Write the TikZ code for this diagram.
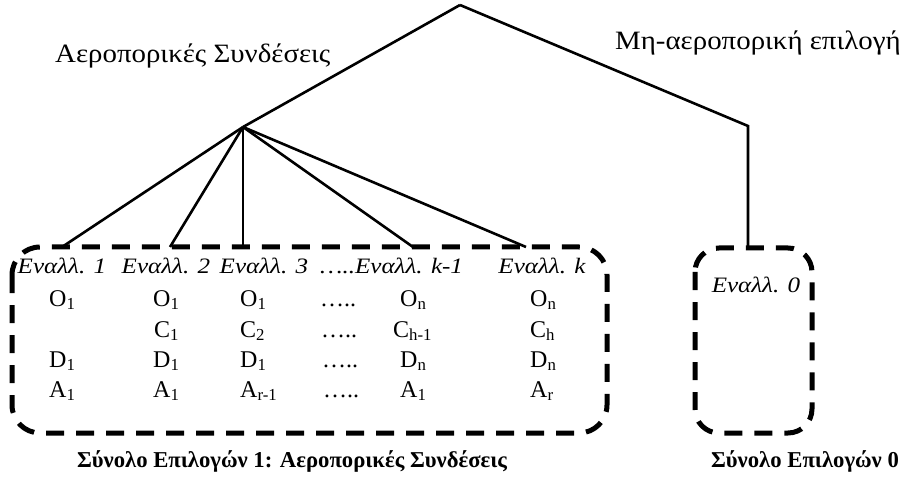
\documentclass[tikz,border=0pt]{standalone}
\usepackage{fontspec}
\setmainfont{Liberation Serif}
\newfontfamily\widelabel[FakeStretch=1.09]{Liberation Serif}
\newfontfamily\widehead[FakeStretch=1.14]{Liberation Serif}
\begin{document}
\begin{tikzpicture}[x=1pt,y=-1pt,
  tree/.style={line width=2.6pt},
  setbox/.style={line width=5pt,dash pattern=on 18pt off 12pt},
  head/.style={font=\widehead\fontsize{22}{24}\selectfont\itshape,anchor=base,inner sep=0pt},
  cell/.style={font=\fontsize{24}{26}\selectfont,anchor=base west,inner sep=0pt},
  branchlabel/.style={font=\widelabel\fontsize{26.5}{28}\selectfont,anchor=base west,inner sep=0pt},
  setlabel/.style={font=\fontsize{22.7}{24}\selectfont\bfseries,anchor=base,inner sep=0pt}]
\useasboundingbox (0,0) rectangle (923,494);

% choice sets
\draw[setbox,rounded corners=28pt] (12,247) rectangle (607,433);
\draw[setbox,rounded corners=24pt] (695,248) rectangle (812,433);

% tree
\coordinate (root) at (460,5);
\coordinate (air) at (243,127);
\coordinate (bend) at (748,126);
\coordinate (a1) at (62,247);
\coordinate (a2) at (170,247);
\coordinate (a3) at (243,247);
\coordinate (ak1) at (413,247);
\coordinate (ak) at (526,247);
\coordinate (a0) at (748,248);
\draw[tree] (root) -- (air);
\draw[tree] (root) -- (bend) -- (a0);
\foreach \t in {a1,a2,a3,ak1,ak} \draw[tree] (air) -- (\t);

% branch labels
\node[branchlabel] (lair) at (55,63) {Αεροπορικές Συνδέσεις};
\node[branchlabel] (lnon) at (615,50) {Μη-αεροπορική επιλογή};

% alternative headers
\node[head] (h1) at (62,273) {Εναλλ. 1};
\node[head] (h2) at (166,273) {Εναλλ. 2};
\node[head] (h3) at (264,273) {Εναλλ. 3};
\node[head,anchor=base west] (hk1) at (320,273) {…..Εναλλ. k-1};
\node[head] (hk) at (542,273) {Εναλλ. k};
\node[head] (h0) at (756,292) {Εναλλ. 0};

% attribute rows
\node[cell] (o1) at (49,306) {O\textsubscript{1}};
\node[cell] (d1) at (49,367) {D\textsubscript{1}};
\node[cell] (r1) at (49,397) {A\textsubscript{1}};
\node[cell] (o2) at (153,306) {O\textsubscript{1}};
\node[cell] (c2) at (154,337) {C\textsubscript{1}};
\node[cell] (d2) at (153,367) {D\textsubscript{1}};
\node[cell] (r2) at (153,397) {A\textsubscript{1}};
\node[cell] (o3) at (240,306) {O\textsubscript{1}};
\node[cell] (c3) at (240,337) {C\textsubscript{2}};
\node[cell] (d3) at (240,367) {D\textsubscript{1}};
\node[cell] (r3) at (240,397) {A\textsubscript{r-1}};
\node[cell] (o4) at (320,306) {…..};
\node[cell] (c4) at (321,337) {…..};
\node[cell] (d4) at (322,367) {…..};
\node[cell] (r4) at (323,397) {…..};
\node[cell] (o5) at (400,306) {O\textsubscript{n}};
\node[cell] (c5) at (393,337) {C\textsubscript{h-1}};
\node[cell] (d5) at (400,367) {D\textsubscript{n}};
\node[cell] (r5) at (400,397) {A\textsubscript{1}};
\node[cell] (o6) at (530,306) {O\textsubscript{n}};
\node[cell] (c6) at (530,337) {C\textsubscript{h}};
\node[cell] (d6) at (530,367) {D\textsubscript{n}};
\node[cell] (r6) at (530,397) {A\textsubscript{r}};

% set captions
\node[setlabel] (s1) at (292,467) {Σύνολο Επιλογών 1: Αεροπορικές Συνδέσεις};
\node[setlabel] (s0) at (805,467) {Σύνολο Επιλογών 0};
\end{tikzpicture}
\end{document}
